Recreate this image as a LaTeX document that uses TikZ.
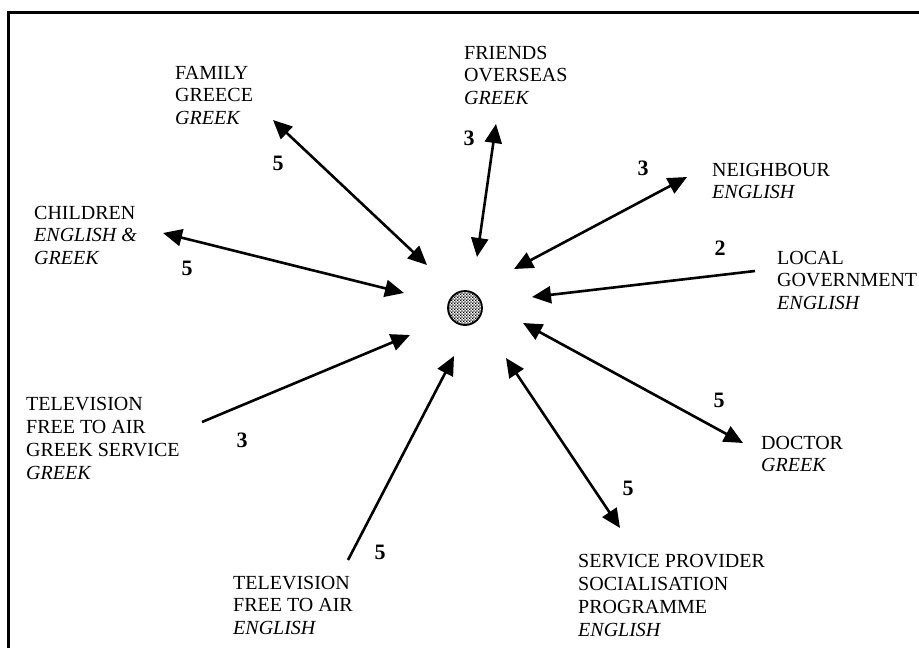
\documentclass[tikz,border=0pt]{standalone}
\usepackage{fontspec}
\setmainfont{Liberation Serif}
\usetikzlibrary{arrows.meta,patterns.meta}
% fine black and white checker for the central disc
\tikzdeclarepattern{
  name=finechecker,
  type=uncolored,
  bottom left={(0pt,0pt)},
  top right={(3.2pt,3.2pt)},
  tile size={(3.2pt,3.2pt)},
  code={
    \fill (0pt,0pt) rectangle (1.6pt,1.6pt);
    \fill (1.6pt,1.6pt) rectangle (3.2pt,3.2pt);
  }
}
\begin{document}
\begin{tikzpicture}[x=1pt,y=-1pt,
  lbl/.style={anchor=base west,inner sep=0pt,align=left,
    font=\fontsize{20}{22.7}\selectfont},
  num/.style={inner sep=0pt,font=\fontsize{22}{24}\selectfont\bfseries},
  link/.style={line width=2.6pt,-{Triangle[length=19pt,width=17pt]}},
  both/.style={line width=2.6pt,{Triangle[length=19pt,width=17pt]}-{Triangle[length=19pt,width=17pt]}}]
\useasboundingbox (0,0) rectangle (919,648);
\clip (0,0) rectangle (919,648);
% outer frame
\draw[line width=3pt] (930,12) -- (8,12) -- (8,660);
% person at the centre
\node[circle,draw,line width=1.8pt,minimum size=34pt,inner sep=0pt,
  pattern=finechecker,pattern color=black] (me) at (465,308) {};

% contacts (anchored on the baseline of the last line)
\node[lbl] (family) at (175,124.4) {FAMILY\\GREECE\\\textit{GREEK}};
\node[lbl] (friends) at (464,104.4) {FRIENDS\\OVERSEAS\\\textit{GREEK}};
\node[lbl] (children) at (34,264.4) {CHILDREN\\\textit{ENGLISH \&}\\\textit{GREEK}};
\node[lbl] (neighbour) at (712,198.7) {NEIGHBOUR\\\textit{ENGLISH}};
\node[lbl] (localgov) at (777,309.4) {LOCAL\\GOVERNMENT\\\textit{ENGLISH}};
\node[lbl] (doctor) at (761,471.7) {DOCTOR\\\textit{GREEK}};
\node[lbl] (service) at (578,636) {SERVICE PROVIDER\\SOCIALISATION\\PROGRAMME\\\textit{ENGLISH}};
\node[lbl] (tvfta) at (233,634.4) {TELEVISION\\FREE TO AIR\\\textit{ENGLISH}};
\node[lbl] (tvgreek) at (26,479) {TELEVISION\\FREE TO AIR\\GREEK SERVICE\\\textit{GREEK}};

% connector ends
\coordinate (familyA) at (273,120);   \coordinate (familyB) at (427,265);
\coordinate (childrenA) at (163,233); \coordinate (childrenB) at (404,293);
\coordinate (friendsA) at (496,124);  \coordinate (friendsB) at (477,257);
\coordinate (neighA) at (687,177);    \coordinate (neighB) at (514,269);
\coordinate (localA) at (755,271);    \coordinate (localB) at (532,297);
\coordinate (doctorA) at (743,443);   \coordinate (doctorB) at (523,323);
\coordinate (serviceA) at (620,528);  \coordinate (serviceB) at (506,358);
\coordinate (tvftaA) at (348,560);    \coordinate (tvftaB) at (454,356);
\coordinate (tvgreekA) at (202,422);  \coordinate (tvgreekB) at (410,335);

\draw[both] (familyA) -- (familyB);
\draw[both] (childrenA) -- (childrenB);
\draw[both] (friendsA) -- (friendsB);
\draw[both] (neighA) -- (neighB);
\draw[link] (localA) -- (localB);
\draw[both] (doctorA) -- (doctorB);
\draw[both] (serviceA) -- (serviceB);
\draw[link] (tvftaA) -- (tvftaB);
\draw[link] (tvgreekA) -- (tvgreekB);

% contact frequencies
\node[num] (nfamily) at (278,163) {5};
\node[num] (nchildren) at (187,268) {5};
\node[num] (nfriends) at (469,138) {3};
\node[num] (nneigh) at (643,168) {3};
\node[num] (nlocal) at (720,248) {2};
\node[num] (ndoctor) at (719,400) {5};
\node[num] (nservice) at (628,488) {5};
\node[num] (ntvfta) at (380,552) {5};
\node[num] (ntvgreek) at (242,440) {3};
\end{tikzpicture}
\end{document}
